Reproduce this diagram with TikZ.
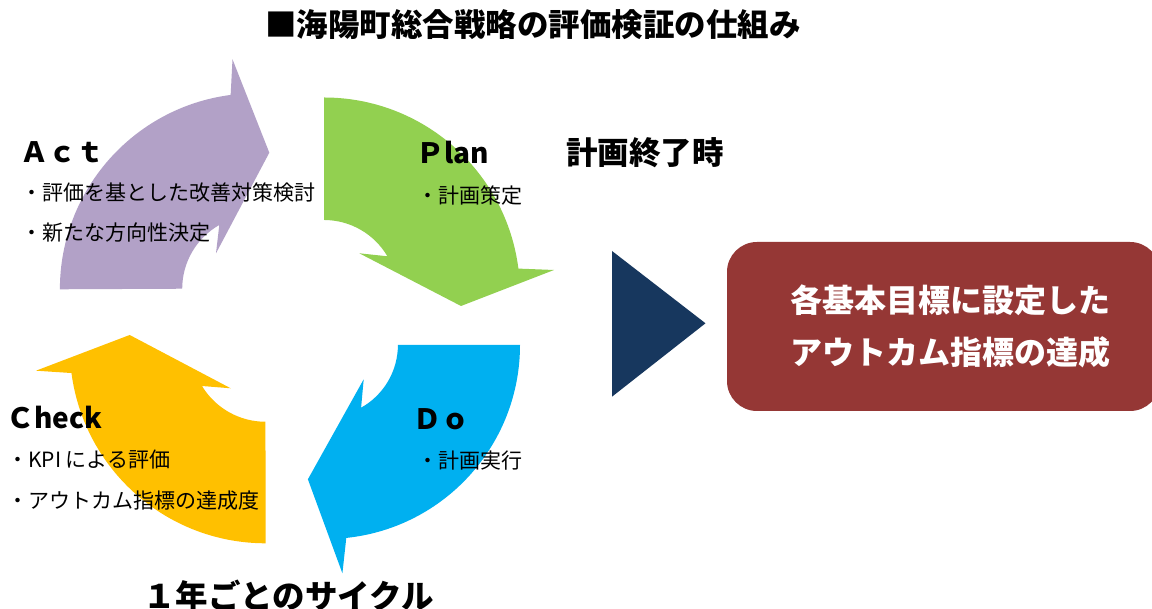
\documentclass[tikz,border=0pt]{standalone}
\usepackage{fontspec}
\newfontfamily\jp{Noto Sans CJK JP}
\definecolor{actc}{HTML}{B2A1C7}
\definecolor{planc}{HTML}{92D050}
\definecolor{doc}{HTML}{00B0F0}
\definecolor{checkc}{HTML}{FFC000}
\definecolor{navy}{HTML}{17375E}
\definecolor{boxred}{HTML}{953735}
\begin{document}
\begin{tikzpicture}[x=1pt,y=1pt,
  txt/.style={inner sep=0pt,anchor=west,font=\jp},
  head/.style={txt,font=\jp\bfseries\fontsize{31.5}{31.5}\selectfont},
  lab/.style={txt,font=\jp\bfseries\fontsize{28}{28}\selectfont},
  item/.style={txt,font=\jp\fontsize{21}{21}\selectfont}]
\clip (0,0) rectangle (1152,609);
\fill[white] (0,0) rectangle (1152,609);
% cycle arrows
\fill[planc] (324,511.5) arc[start angle=90, end angle=7.3, radius=196] -- (554,339) -- (461,303) -- (359.3,355.7) -- (387.4,352.7) arc[start angle=30.4, end angle=90, radius=73.5] -- cycle;
\fill[doc] (398,264) -- (520,264) arc[start angle=0, end angle=-84, radius=194] -- (342.4,35.7) -- (307.9,129.7) -- (363.7,229.7) -- (361.1,201.3) arc[start angle=-60.75, end angle=0, radius=72] -- cycle;
\fill[checkc] (265.6,65.7) arc[start angle=270, end angle=187.5, radius=195.8] -- (36,238.3) -- (129.7,274) -- (230.7,220.7) -- (202,223) arc[start angle=211.2, end angle=270, radius=74.2] -- cycle;
\fill[actc] (59.9,319.7) arc[start angle=180, end angle=97.4, radius=196] -- (232.5,549.7) -- (269.3,456.3) -- (216,355.7) -- (219.3,384) arc[start angle=119.6, end angle=180, radius=73.3] -- cycle;
% triangle
\fill[navy] (612,358) -- (705.5,285.7) -- (612,212.3) -- cycle;
% result box
\node[fill=boxred, rounded corners=30pt, minimum width=433pt, minimum height=169pt, inner sep=0pt] (box) at (943.5,282.5) {};
\node[inner sep=0pt, align=center, text=white, font=\jp\bfseries\fontsize{32}{52}\selectfont] (boxtext) at (950,283) {各基本目標に設定した\\アウトカム指標の達成};
% headings
\node[head] (title) at (265,584) {■海陽町総合戦略の評価検証の仕組み};
\node[head] (end) at (566,456) {計画終了時};
\node[head,font=\jp\bfseries\fontsize{32.5}{32.5}\selectfont] (cycle) at (143,13) {１年ごとのサイクル};
% labels
\node[lab] (act) at (20,457) {Ａｃｔ};
\node[lab] (plan) at (416,456) {Ｐlan};
\node[lab] (check) at (6,191) {Ｃheck};
\node[lab] (do) at (413,190) {Ｄｏ};
% items
\node[item] (a1) at (21,416) {・評価を基とした改善対策検討};
\node[item] (a2) at (21,376) {・新たな方向性決定};
\node[item] (p1) at (417,413) {・計画策定};
\node[item] (c1) at (7,149) {・KPI による評価};
\node[item] (c2) at (7,108) {・アウトカム指標の達成度};
\node[item] (d1) at (417,148) {・計画実行};
\end{tikzpicture}
\end{document}
